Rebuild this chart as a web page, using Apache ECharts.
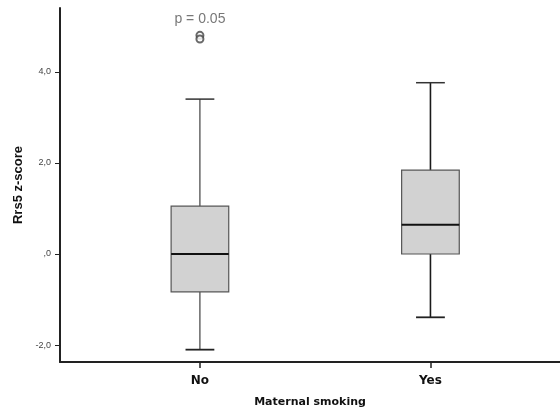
<!DOCTYPE html>
<html>
<head>
<meta charset="utf-8">
<script src="https://cdn.jsdelivr.net/npm/echarts@6/dist/echarts.min.js"></script>
<style>html,body{margin:0;padding:0;background:#fff}#c{width:560px;height:411px}</style>
</head>
<body>
<div id="c"></div>
<script>
const categories = ['No', 'Yes'];
const categoryPos = [0, 1];
const whiskerMin = [-2.10, -1.39];
const q1 = [-0.83, 0.00];
const median = [0.00, 0.64];
const q3 = [1.05, 1.84];
const whiskerMax = [3.40, 3.76];
const outliers = [[0, 4.80], [0, 4.72]];
const yTicks = [-2, 0, 2, 4];
const yTickLabels = ['-2,0', ',0', '2,0', '4,0'];
const pLabel = 'p = 0.05';

const whiskerWidths = [1, 1.6];

const boxData = categoryPos.map((x, i) => [x, whiskerMin[i], q1[i], median[i], q3[i], whiskerMax[i]]);

const chart = echarts.init(document.getElementById('c'), null, {renderer: 'canvas'});
chart.setOption({
  animation: false,
  backgroundColor: '#fff',
  grid: {left: 60, right: 0, top: 8, bottom: 49, containLabel: false, outerBoundsMode: 'none'},
  xAxis: {
    type: 'value',
    min: -0.607, max: 1.562,
    splitLine: {show: false},
    axisLine: {show: true, onZero: false, lineStyle: {color: '#222', width: 2}},
    axisTick: {show: true, customValues: categoryPos, length: 6, lineStyle: {color: '#222', width: 1.5}},
    axisLabel: {customValues: categoryPos, margin: 13,
      formatter: v => categories[categoryPos.indexOf(Math.round(v))] || '',
      fontFamily: 'DejaVu Sans', fontWeight: 'bold', fontSize: 12, color: '#111'},
    name: 'Maternal smoking', nameLocation: 'middle', nameGap: 35,
    nameTextStyle: {fontFamily: 'DejaVu Sans', fontWeight: 'bold', fontSize: 11, color: '#111'}
  },
  yAxis: {
    type: 'value',
    min: -2.371, max: 5.40,
    splitLine: {show: false},
    axisLine: {show: true, onZero: false, lineStyle: {color: '#222', width: 2}},
    axisTick: {show: true, customValues: yTicks, length: 5, lineStyle: {color: '#222', width: 1}},
    axisLabel: {customValues: yTicks, margin: 9,
      formatter: v => yTickLabels[yTicks.indexOf(Math.round(v))] || '',
      fontFamily: 'Liberation Sans', fontSize: 9, color: '#444'},
    name: 'Rrs5 z-score', nameLocation: 'middle', nameGap: 33, nameRotate: 90,
    nameTextStyle: {fontFamily: 'Liberation Sans', fontWeight: 'bold', fontSize: 13, color: '#111'}
  },
  series: [
    {
      type: 'custom',
      data: boxData,
      renderItem: function (params, api) {
        const x = api.value(0);
        const pMin = api.coord([x, api.value(1)]);
        const pQ1 = api.coord([x, api.value(2)]);
        const pMed = api.coord([x, api.value(3)]);
        const pQ3 = api.coord([x, api.value(4)]);
        const pMax = api.coord([x, api.value(5)]);
        const bw = api.size([0.25, 0])[0];
        const cw = bw / 2;
        const cx = pMed[0];
        const ww = whiskerWidths[params.dataIndex];
        const wStyle = {stroke: '#1a1a1a', lineWidth: ww, fill: null};
        return {
          type: 'group',
          children: [
            {type: 'line', shape: {x1: cx, y1: pQ3[1], x2: cx, y2: pMax[1]}, style: wStyle},
            {type: 'line', shape: {x1: cx - cw / 2, y1: pMax[1], x2: cx + cw / 2, y2: pMax[1]}, style: {stroke: '#333', lineWidth: 1.5}},
            {type: 'line', shape: {x1: cx, y1: pQ1[1], x2: cx, y2: pMin[1]}, style: wStyle},
            {type: 'line', shape: {x1: cx - cw / 2, y1: pMin[1], x2: cx + cw / 2, y2: pMin[1]}, style: {stroke: '#222', lineWidth: 1.8}},
            {type: 'rect', shape: {x: cx - bw / 2, y: pQ3[1], width: bw, height: pQ1[1] - pQ3[1]},
              style: {fill: '#d2d2d2', stroke: '#555', lineWidth: 1.2}},
            {type: 'line', shape: {x1: cx - bw / 2, y1: pMed[1], x2: cx + bw / 2, y2: pMed[1]}, style: {stroke: '#111', lineWidth: 2}}
          ]
        };
      },
      encode: {x: 0, y: [1, 2, 3, 4, 5]},
      z: 2
    },
    {
      type: 'scatter',
      symbol: 'emptyCircle',
      symbolSize: 7,
      itemStyle: {color: '#444', borderColor: '#444', borderWidth: 1},
      data: outliers.map((d, i) => i === 0 ? {
        value: d,
        label: {show: true, position: 'top', distance: 5, formatter: pLabel,
          fontFamily: 'Liberation Sans', fontSize: 14, color: '#555'}
      } : {value: d}),
      z: 3
    }
  ]
});
</script>
</body>
</html>
